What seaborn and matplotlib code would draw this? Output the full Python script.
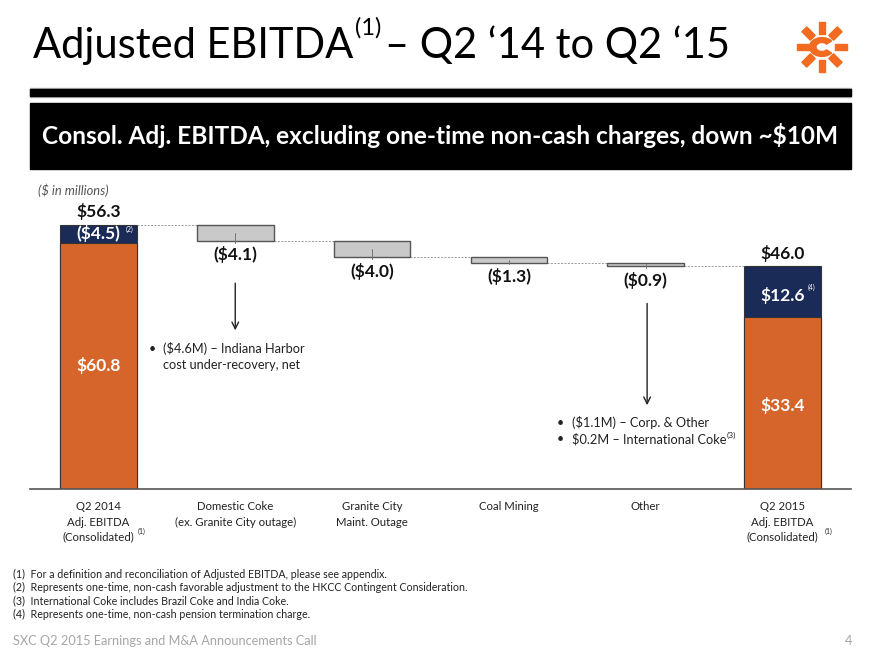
import numpy as np
import pandas as pd
import seaborn as sns
import matplotlib.pyplot as plt
from matplotlib.patches import Rectangle, Wedge, Polygon

# Data ($ in millions)
categories = ['Q2 2014', 'Domestic Coke', 'Granite City', 'Coal Mining', 'Other', 'Q2 2015']
cat_labels = ['Q2 2014\nAdj. EBITDA\n(Consolidated)', 'Domestic Coke\n(ex. Granite City outage)',
              'Granite City\nMaint. Outage', 'Coal Mining', 'Other',
              'Q2 2015\nAdj. EBITDA\n(Consolidated)']
start_core = 60.8        # Q2 2014 excl. one-time
start_onetime = 4.5      # one-time adj (2)
start_total_label = '$56.3'
changes = [4.1, 4.0, 1.3, 0.9]
change_labels = ['($4.1)', '($4.0)', '($1.3)', '($0.9)']
end_onetime = 12.6       # pension charge (4)
end_core_label = '$33.4'
end_total_label = '$46.0'

ORANGE = '#D6652B'
NAVY = '#1B2B57'
GRAY = '#C9C9C9'
FONT = 'Lato'

sns.set_theme(style='white')
plt.rcParams['font.family'] = [FONT, 'DejaVu Sans']

fig = plt.figure(figsize=(8.8, 6.6), dpi=100)
ax = fig.add_axes([30/880, 1-489/660, (851-30)/880, (489-200)/660])

# waterfall levels
top0 = start_core + start_onetime
levels = [top0]
for c in changes:
    levels.append(levels[-1] - c)
end_top = levels[-1]
end_core = end_top - end_onetime

totals = [top0, np.nan, np.nan, np.nan, np.nan, end_top]
cores = [start_core, np.nan, np.nan, np.nan, np.nan, end_core]
df = pd.DataFrame({'cat': categories, 'total': totals, 'core': cores})

W = 0.56
sns.barplot(data=df, x='cat', y='total', order=categories, color=NAVY, width=W,
            saturation=1, edgecolor='#333333', linewidth=0.8, ax=ax)
sns.barplot(data=df, x='cat', y='core', order=categories, color=ORANGE, width=W,
            saturation=1, edgecolor='#333333', linewidth=0.8, ax=ax)

# floating bars
for i, c in enumerate(changes):
    x = i + 1
    hi, lo = levels[i], levels[i + 1]
    ax.bar(x, c, bottom=lo, width=W, color=GRAY, edgecolor='#555555', linewidth=1.0, zorder=3)
    ax.plot([x, x], [lo + c / 2, lo - 0.4], color='#777777', lw=0.7, zorder=4)
    ax.text(x, lo - 1.3, change_labels[i], ha='center', va='top', fontsize=12.5,
            fontweight='bold', color='#111111')

# connectors
for i in range(5):
    ax.plot([i + W / 2, i + 1 - W / 2], [levels[i], levels[i]], color='#999999',
            lw=0.7, ls=(0, (2, 1.5)), zorder=1)

# bar labels
ax.text(0, top0 + 1.0, start_total_label, ha='center', va='bottom', fontsize=12.5,
        fontweight='bold', color='#111111')
ax.text(0, start_core + start_onetime / 2, '($4.5)', ha='center', va='center',
        fontsize=12.5, fontweight='bold', color='white')
ax.text(0.2, top0 - 0.3, '(2)', ha='left', va='top', fontsize=5, color='white')
ax.text(0, 30.5, '$60.8', ha='center', va='center', fontsize=12.5,
        fontweight='bold', color='white')
ax.text(5, end_top + 1.0, end_total_label, ha='center', va='bottom', fontsize=12.5,
        fontweight='bold', color='#111111')
ax.text(5, end_top - 7.3, '$12.6', ha='center', va='center', fontsize=12.5,
        fontweight='bold', color='white')
ax.text(5.18, end_top - 5.2, '(4)', ha='left', va='center', fontsize=5, color='white')
ax.text(5, 20.5, end_core_label, ha='center', va='center', fontsize=12.5,
        fontweight='bold', color='white')

# arrows and commentary
ax.annotate('', xy=(1, 38.5), xytext=(1, 51.5),
            arrowprops=dict(arrowstyle='->', color='#222222', lw=1.0))
ax.annotate('', xy=(4.01, 20), xytext=(4.01, 46.5),
            arrowprops=dict(arrowstyle='->', color='#222222', lw=1.0))
ax.text(0.37, 34.6, '•', fontsize=9, va='center', color='#222222')
ax.text(0.475, 34.6, '($4.6M) – Indiana Harbor', fontsize=9.2, va='center', color='#222222')
ax.text(0.475, 30.7, 'cost under-recovery, net', fontsize=9.2, va='center', color='#222222')
ax.text(3.35, 16.3, '•', fontsize=9, va='center', color='#222222')
ax.text(3.35, 12.4, '•', fontsize=9, va='center', color='#222222')
ax.text(3.46, 16.3, '($1.1M) – Corp. & Other', fontsize=9.2, va='center', color='#222222')
t_ic = ax.text(3.46, 12.4, '$0.2M – International Coke', fontsize=9.2, va='center', color='#222222')

ax.set_xlim(-0.5, 5.5)
ax.set_ylim(0, (489 - 200) / 4.05)
ax.set_xlabel('')
ax.set_ylabel('')
ax.set_yticks([])
ax.set_xticks(range(6))
ax.set_xticklabels(cat_labels, fontsize=8.2, color='#222222', linespacing=1.45, va='top')
ax.tick_params(axis='x', length=0, pad=9)
for s in ['top', 'left', 'right']:
    ax.spines[s].set_visible(False)
ax.spines['bottom'].set_color('#555555')
ax.spines['bottom'].set_linewidth(1.2)
ax.text(0.285, -0.148, '(1)', transform=ax.get_xaxis_transform(), fontsize=5,
        va='center', color='#222222')
ax.text(5.31, -0.148, '(1)', transform=ax.get_xaxis_transform(), fontsize=5,
        va='center', color='#222222')

# slide header
fig.text(38/880, 1-190/660, '($ in millions)', fontsize=9.3, style='italic', color='#555555', va='center')
fig.canvas.draw()
r = fig.canvas.get_renderer()
bb_ic = t_ic.get_window_extent(r)
fig.text(bb_ic.x1/880 + 0.001, 1-435/660, '(3)', fontsize=6, va='center', color='#222222')
t1 = fig.text(33/880, 1-46/660, 'Adjusted EBITDA', fontsize=30, va='center', color='black')
bb = t1.get_window_extent(r)
t2 = fig.text(bb.x1/880 + 0.002, 1-28/660, '(1)', fontsize=17, va='center', color='black')
bb2 = t2.get_window_extent(r)
fig.text(bb2.x1/880 + 0.004, 1-46/660, '– Q2 ‘14 to Q2 ‘15', fontsize=30, va='center', color='black')

fig.patches.append(Rectangle((30/880, 1-97/660), 821/880, 9/660, transform=fig.transFigure,
                             color='#BBBBBB', zorder=1))
fig.patches.append(Rectangle((30/880, 1-96/660), 821/880, 7/660, transform=fig.transFigure,
                             color='black', zorder=2))
fig.patches.append(Rectangle((30/880, 1-169/660), 821/880, 66/660, transform=fig.transFigure,
                             color='black', zorder=2))
fig.text(440/880, 1-136/660, 'Consol. Adj. EBITDA, excluding one-time non-cash charges, down ~$10M',
         ha='center', va='center', fontsize=17.6, fontweight='bold', color='white', zorder=3)

# logo
cx, cy = 822, 47
for k in range(8):
    a = np.deg2rad(k * 45)
    d = np.array([np.cos(a), np.sin(a)])
    n = np.array([-d[1], d[0]])
    r0, r1, hw = 13, 25, 3.4
    pts = [d*r0 + n*hw, d*r1 + n*hw, d*r1 - n*hw, d*r0 - n*hw]
    pts = [((cx + p[0])/880, 1 - (cy - p[1])/660) for p in pts]
    fig.patches.append(Polygon(pts, closed=True, transform=fig.transFigure, color='#F26B21'))
fig.patches.append(Wedge((cx/880, 1-cy/660), 12.5/880, 40, 320, width=6.5/880,
                         transform=fig.transFigure, color='#F26B21'))

# footnotes
notes = ['(1)  For a definition and reconciliation of Adjusted EBITDA, please see appendix.',
         '(2)  Represents one-time, non-cash favorable adjustment to the HKCC Contingent Consideration.',
         '(3)  International Coke includes Brazil Coke and India Coke.',
         '(4)  Represents one-time, non-cash pension termination charge.']
for j, n in enumerate(notes):
    fig.text(13/880, 1-(574 + 13.5*j)/660, n, fontsize=7.7, va='center', color='#222222')
fig.text(13/880, 1-641/660, 'SXC Q2 2015 Earnings and M&A Announcements Call', fontsize=9.2,
         va='center', color='#A6A6A6')
fig.text(845/880, 1-641/660, '4', fontsize=9.2, va='center', color='#A6A6A6')

fig.savefig('out.png', dpi=100)
